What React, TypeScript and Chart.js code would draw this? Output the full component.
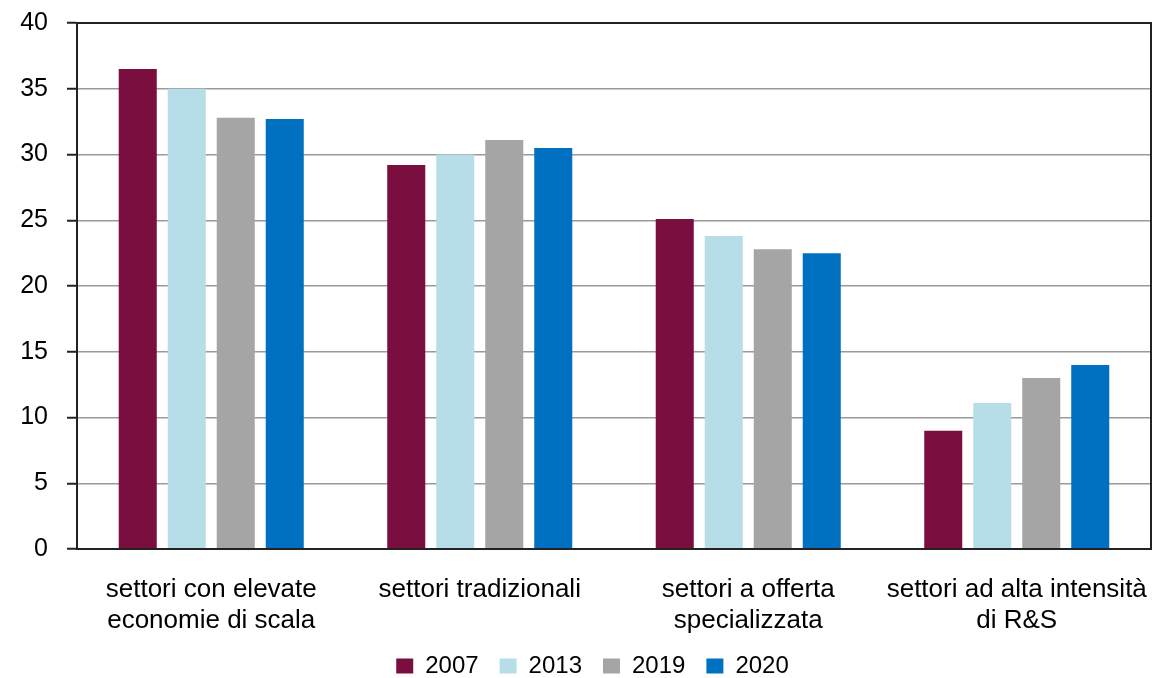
import React, { useEffect, useRef } from "react";
import { Chart, registerables } from "chart.js";

Chart.register(...registerables);

const categories: string[][] = [
  ["settori con elevate", "economie di scala"],
  ["settori tradizionali"],
  ["settori a offerta", "specializzata"],
  ["settori ad alta intensità", "di R&S"],
];
const seriesNames = ["2007", "2013", "2019", "2020"];
const values2007 = [36.5, 29.2, 25.1, 9.0];
const values2013 = [35.0, 30.0, 23.8, 11.1];
const values2019 = [32.8, 31.1, 22.8, 13.0];
const values2020 = [32.7, 30.5, 22.5, 14.0];
const colors = ["#7A0F3F", "#B7DDE8", "#A5A5A5", "#0070C0"];

const FONT = "'Liberation Sans', Arial, sans-serif";

const framePlugin = {
  id: "frame",
  afterLayout(chart: any) {
    if (chart.legend) {
      chart.legend.left += 17;
      chart.legend.right += 17;
    }
  },
  afterDraw(chart: any) {
    const { ctx, chartArea } = chart;
    ctx.save();
    ctx.strokeStyle = "#222";
    ctx.lineWidth = 2;
    ctx.strokeRect(chartArea.left, chartArea.top, chartArea.right - chartArea.left, chartArea.bottom - chartArea.top);
    ctx.restore();
  },
};

export default function App() {
  const ref = useRef<HTMLCanvasElement>(null);
  useEffect(() => {
    if (!ref.current) return;
    const all = [values2007, values2013, values2019, values2020];
    const chart = new Chart(ref.current, {
      type: "bar",
      data: {
        labels: categories,
        datasets: seriesNames.map((n, i) => ({
          label: n,
          data: all[i],
          backgroundColor: colors[i],
          borderWidth: 0,
          categoryPercentage: 0.73,
          barPercentage: 0.776,
        })),
      },
      options: {
        responsive: false,
        animation: false,
        layout: { padding: { top: 23, right: 3, left: 0, bottom: 0 } },
        plugins: {
          tooltip: { enabled: false },
          legend: {
            position: "bottom",
            maxHeight: 45,
            labels: {
              font: { family: FONT, size: 24 },
              color: "#000",
              boxWidth: 17,
              boxHeight: 15,
              padding: 21,
            },
          },
        },
        scales: {
          x: {
            grid: { display: false, drawTicks: false },
            border: { display: true, color: "#222", width: 2 },
            ticks: {
              font: { family: FONT, size: 26, lineHeight: 1.2 },
              color: "#000",
              padding: 25,
              maxRotation: 0,
              autoSkip: false,
            },
            afterFit(scale: any) {
              scale.height = 84;
              scale.paddingLeft = 0;
              scale.paddingRight = 0;
            },
          },
          y: {
            min: 0,
            max: 40,
            ticks: {
              stepSize: 5,
              font: { family: FONT, size: 25 },
              color: "#000",
              padding: 19,
            },
            grid: {
              color: "#9a9a9a",
              lineWidth: 1.5,
              tickColor: "#222",
              tickLength: 10,
              tickWidth: 2,
            },
            border: { display: true, color: "#222", width: 2 },
            afterFit(scale: any) {
              scale.width = 77;
              scale.paddingTop = 0;
              scale.paddingBottom = 0;
            },
          },
        },
      },
      plugins: [framePlugin],
    });
    return () => chart.destroy();
  }, []);
  return (
    <div style={{ position: "absolute", left: 0, top: 0, width: 1154, height: 678, background: "#fff" }}>
      <canvas ref={ref} width={1154} height={678} style={{ display: "block" }} />
    </div>
  );
}
